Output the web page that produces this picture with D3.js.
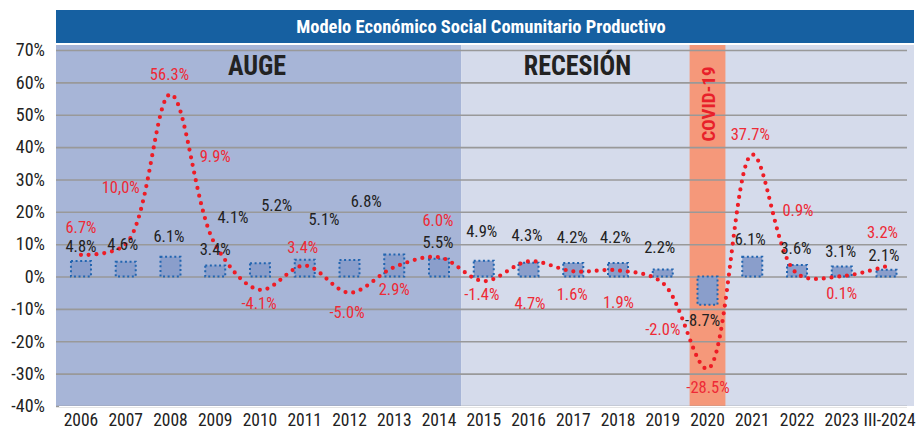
<!DOCTYPE html>
<html><head><meta charset="utf-8">
<script src="https://cdn.jsdelivr.net/npm/d3@7"></script>
<style>
html,body{margin:0;padding:0;background:#fff;}
svg{display:block;font-family:"Roboto Condensed","Roboto","Liberation Sans",sans-serif;}
</style></head><body>
<svg id="c" width="920" height="429"></svg>
<script>
// ---- data ----
const categories = ["2006","2007","2008","2009","2010","2011","2012","2013","2014","2015","2016","2017","2018","2019","2020","2021","2022","2023","III-2024"];
const barValues  = [4.8,4.6,6.1,3.4,4.1,5.2,5.1,6.8,5.5,4.9,4.3,4.2,4.2,2.2,-8.7,6.1,3.6,3.1,2.1];
const lineValues = [6.7,10.0,56.3,9.9,-4.1,3.4,-5.0,2.9,6.0,-1.4,4.7,1.6,1.9,-2.0,-28.5,37.7,0.9,0.1,3.2];
const lineLabels = ["6.7%","10,0%","56.3%","9.9%","-4.1%","3.4%","-5.0%","2.9%","6.0%","-1.4%","4.7%","1.6%","1.9%","-2.0%","-28.5%","37.7%","0.9%","0.1%","3.2%"];
const yTicks = [-40,-30,-20,-10,0,10,20,30,40,50,60,70];
const title = "Modelo Económico Social Comunitario Productivo";
const periods = [{name:"AUGE", from:"2006", to:"2014"},{name:"RECESIÓN", from:"2015", to:"III-2024"}];
const covidYear = "2020";

// ---- layout (label offsets in px, not data) ----
const barLabelOff = [[0,-15],[-3,-17.6],[-1.5,-20],[0,-16.5],[-27,-46],[-28,-54.7],[-25.5,-40.7],[-28,-52.8],[-1,-16.4],
  [-2,-29],[-1.5,-27.6],[-1,-25.6],[-2.5,-25.6],[-3,-22],[-5,16],[-2,-17],[-1,-16.6],[-1,-15.5],[-2.5,-14.7]];
const lineLabelOff = [[0,-27.5],[-5,-57],[-1,-20],[0,-88.5],[-1,14],[-2,-18.5],[-2.5,20],[0,22],[-1,-37],
  [-2,13.7],[1.5,41.7],[-1,22.7],[0.5,32.3],[0,46],[0.5,18.3],[-2,-20.5],[1,-63.6],[0,17],[-4,-33.4]];

const FONT = '"Roboto Condensed","Roboto",sans-serif';
const svg = d3.select("#c");
const plotL = 56, plotR = 914, gridR = 907, plotT = 45, plotB = 406;
const x = d3.scaleBand().domain(categories).range([58.6, 908.9]).padding(0);
const y = d3.scaleLinear().domain([-40,70]).range([406,50]);
const step = x.step();
const xc = d => x(d) + step/2;

function label(g, px, py, str, opts){
  const sx = opts.sx || 1;
  g.append("text")
    .attr("transform", `translate(${px},${py}) scale(${sx},1)`)
    .attr("text-anchor","middle").attr("dominant-baseline","central")
    .attr("font-size", opts.size || 16.5).attr("font-weight", opts.weight || 400)
    .attr("fill", opts.color || "#222").text(str);
}

// title bar
svg.append("rect").attr("x",plotL).attr("y",10).attr("width",plotR-plotL).attr("height",33).attr("fill","#1660a1");
label(svg, 481, 26.5, title, {size:18.5, weight:700, color:"#fff"});

// period backgrounds
const bgCol = {"AUGE":"#a7b5d7","RECESIÓN":"#d5dbeb"};
periods.forEach((p,i)=>{
  const x0 = i===0 ? plotL : x(p.from);
  const x1 = i===periods.length-1 ? plotR : x(p.to)+step;
  svg.append("rect").attr("x",x0).attr("y",plotT).attr("width",x1-x0).attr("height",plotB-plotT).attr("fill",bgCol[p.name]);
});
// covid band
svg.append("rect").attr("x",x(covidYear)+step*0.1).attr("y",plotT).attr("width",step*0.8).attr("height",plotB-plotT).attr("fill","#f5987a");

// grid + y axis
const yAxis = d3.axisLeft(y).tickValues(yTicks).tickSize(0).tickPadding(12).tickFormat(d=>d+"%");
const gy = svg.append("g").attr("transform",`translate(${plotL},0)`).call(yAxis).attr("font-family",FONT).attr("font-size",18);
gy.select(".domain").remove();
gy.selectAll("text").attr("fill","#222").attr("dx",1);
const grid = svg.append("g").attr("transform",`translate(${plotL},0)`)
  .call(d3.axisLeft(y).tickValues(yTicks).tickSize(-(gridR-plotL)).tickFormat(""));
grid.select(".domain").remove();
grid.selectAll("line").attr("stroke","#999").attr("stroke-width",1.6);

// x axis
const gx = svg.append("g").attr("transform",`translate(0,${plotB})`).call(d3.axisBottom(x).tickSize(0).tickPadding(8))
  .attr("font-family",FONT).attr("font-size",17.5);
gx.select(".domain").attr("stroke","#fff").attr("stroke-width",1);
gx.selectAll("text").attr("fill","#222");
gx.selectAll(".tick").filter(d=>d==="III-2024").select("text").attr("dx",3);

// bars
const bw = 20;
svg.append("g").selectAll("rect").data(categories).join("rect")
  .attr("x",(d)=>xc(d)-bw/2)
  .attr("y",(d,i)=>y(Math.max(0,barValues[i])))
  .attr("width",bw)
  .attr("height",(d,i)=>Math.abs(y(barValues[i])-y(0)))
  .attr("fill","#8a9ecb").attr("stroke","#2265b0").attr("stroke-width",2)
  .attr("stroke-dasharray","2 2.6");

// line
const line = d3.line().x((d,i)=>xc(categories[i])).y(d=>y(d)).curve(d3.curveCatmullRom.alpha(0.5));
svg.append("path").datum(lineValues).attr("d",line).attr("fill","none")
  .attr("stroke","#ee1c25").attr("stroke-width",4.2).attr("stroke-linecap","round").attr("stroke-dasharray","0 7.8");

// labels
const gl = svg.append("g");
categories.forEach((c,i)=>{
  const o = barLabelOff[i];
  label(gl, xc(c)+o[0], y(barValues[i])+o[1], barValues[i].toFixed(1)+"%", {color:"#222"});
  const o2 = lineLabelOff[i];
  label(gl, xc(c)+o2[0], y(lineValues[i])+o2[1], lineLabels[i], {color:"#ee2a36"});
});

// period titles
label(svg, 257, 66, "AUGE", {size:28, weight:700, color:"#222", sx:0.93});
label(svg, 577.5, 66, "RECESIÓN", {size:28, weight:700, color:"#222", sx:0.93});
// covid label
svg.append("text").attr("transform",`translate(${xc(covidYear)+1},104) rotate(-90)`)
  .attr("text-anchor","middle").attr("dominant-baseline","central")
  .attr("font-size",19).attr("font-weight",700).attr("fill","#e8202a").text("COVID-19");
</script>
</body></html>
